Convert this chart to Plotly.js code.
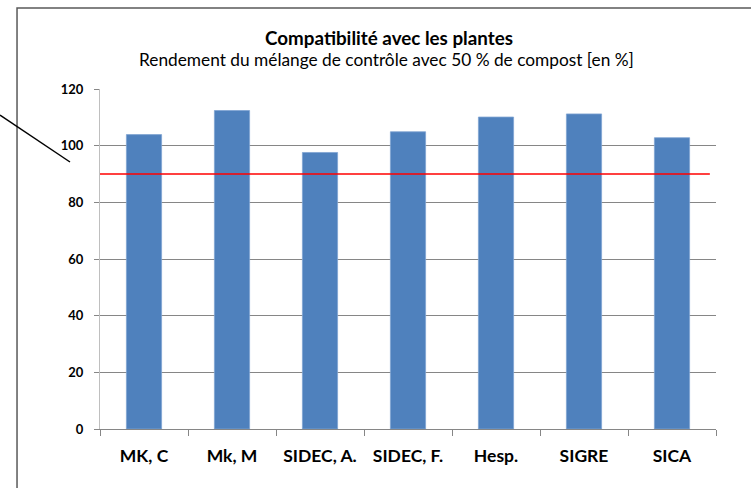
<!DOCTYPE html>
<html>
<head>
<meta charset="utf-8">
<script src="https://cdn.plot.ly/plotly-3.0.1.min.js"></script>
<style>html,body{margin:0;padding:0;background:#fff;}#chart{width:751px;height:488px;}</style>
</head>
<body>
<div id="chart"></div>
<script>
const categories = ["MK, C", "Mk, M", "SIDEC, A.", "SIDEC, F.", "Hesp.", "SIGRE", "SICA"];
const values = [103.9, 112.4, 97.6, 104.9, 110.1, 111.2, 102.8];
const thresholdValue = 90;
const yTicks = [0, 20, 40, 60, 80, 100, 120];
const titleText = "Compatibilité avec les plantes";
const subtitleText = "Rendement du mélange de contrôle avec 50 % de compost [en %]";

const FONT = "Lato, 'Open Sans', sans-serif";

const trace = {
  type: "bar",
  x: categories,
  y: values,
  marker: { color: "#4F81BD", line: { color: "#7FA3D2", width: 0.8 } },
  hoverinfo: "x+y"
};

const layout = {
  width: 751,
  height: 488,
  margin: { l: 100, r: 35, t: 89, b: 59 },
  paper_bgcolor: "#ffffff",
  plot_bgcolor: "#ffffff",
  showlegend: false,
  bargap: 0.6,
  font: { family: FONT, color: "#000000" },
  title: {
    text: "<b>" + titleText + "</b>",
    font: { family: FONT, size: 18.8, color: "#000000" },
    x: 389 / 751, xref: "container", xanchor: "center",
    y: 1 - 38 / 488, yref: "container", yanchor: "middle"
  },
  xaxis: {
    type: "category",
    showline: true, linecolor: "#868686", linewidth: 1,
    ticks: "outside", tickson: "boundaries", ticklen: 6, tickcolor: "#868686",
    tickfont: { family: FONT, size: 17.5, color: "#000000", weight: "bold" },
    ticklabelstandoff: 11,
    showgrid: false, zeroline: false,
    fixedrange: true
  },
  yaxis: {
    range: [0, 120],
    tickvals: yTicks,
    ticktext: yTicks.map(String),
    showline: true, linecolor: "#BFBFBF", linewidth: 1,
    ticks: "outside", ticklen: 5, tickcolor: "#868686",
    tickfont: { family: FONT, size: 13, color: "#000000", weight: "bold" },
    ticklabelstandoff: 8,
    showgrid: true, gridcolor: "#868686", gridwidth: 1,
    zeroline: false,
    fixedrange: true
  },
  shapes: [
    { type: "line", xref: "paper", yref: "y", x0: 0, x1: 0.99, y0: thresholdValue, y1: thresholdValue,
      line: { color: "#FF0000", width: 1.5 } },
    { type: "rect", xref: "paper", yref: "paper", x0: -0.1347, x1: 1.3, y0: -0.4, y1: 1.238,
      line: { color: "#595959", width: 1.5 }, fillcolor: "rgba(0,0,0,0)", layer: "below" },
    { type: "line", xref: "paper", yref: "paper", x0: -0.1623, y0: 0.9235, x1: -0.0487, y1: 0.7853,
      line: { color: "#000000", width: 1.5 } }
  ],
  annotations: [
    { text: subtitleText, xref: "paper", yref: "paper",
      x: (386 - 100) / 616, y: (429 - 59) / 340, xanchor: "center", yanchor: "middle",
      showarrow: false, font: { family: FONT, size: 17.3, color: "#000000" } }
  ]
};

Plotly.newPlot("chart", [trace], layout, { displayModeBar: false, staticPlot: true });
</script>
</body>
</html>
